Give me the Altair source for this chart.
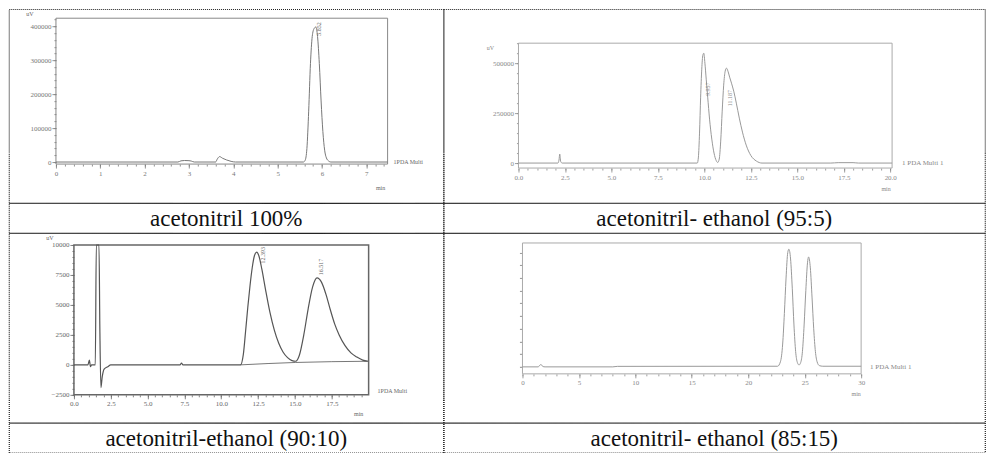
import altair as alt
import pandas as pd

FONT = "Liberation Serif, Times New Roman, serif"

# ---------------- captions ----------------
captions_top = ["acetonitril 100%", "acetonitril- ethanol (95:5)"]
captions_bottom = ["acetonitril-ethanol (90:10)", "acetonitril- ethanol (85:15)"]

# ---------------- panel A: acetonitril 100% (uV vs min) ----------------
a_time = [0.0, 2.75, 2.82, 2.9, 3.0, 3.05, 3.12, 3.6, 3.64, 3.69, 3.76, 3.85, 3.95, 4.05,
          5.58, 5.62, 5.66, 5.70, 5.74, 5.78, 5.82, 5.86, 5.90, 5.94, 5.98, 6.02, 6.06,
          6.10, 6.15, 6.20, 7.48]
a_signal = [0, 0, 3500, 4500, 4000, 3000, 0, 0, 9000, 16000, 11000, 6000, 2000, 0,
            0, 5000, 40000, 150000, 290000, 370000, 393000, 398000, 370000, 290000, 180000,
            90000, 35000, 12000, 3000, 0, 0]
a_range = [0.0, 7.48, -6000, 424000]
a_peak_time = [5.852]
a_peak_height = [398000]
a_peak_label = ["5.852"]

# ---------------- panel B: acetonitril-ethanol 95:5 ----------------
b_time = [0.0, 2.12, 2.18, 2.22, 2.27, 2.35, 9.62, 9.68, 9.74, 9.80, 9.86, 9.92, 9.97,
          10.03, 10.10, 10.18, 10.28, 10.40, 10.52, 10.64, 10.72, 10.80, 10.88, 10.96,
          11.04, 11.12, 11.19, 11.27, 11.36, 11.46, 11.58, 11.72, 11.88, 12.05, 12.25,
          12.50, 12.80, 13.10, 16.8, 17.2, 18.0, 18.3, 20.1]
b_signal = [0, 0, 15000, 45000, 8000, 0, 0, 30000, 150000, 330000, 470000, 540000, 550000,
            500000, 420000, 330000, 220000, 120000, 50000, 12000, 3000, 20000, 110000,
            260000, 390000, 460000, 475000, 460000, 430000, 400000, 360000, 300000,
            225000, 155000, 90000, 38000, 10000, 0, 0, 2000, 2000, 0, 0]
b_range = [0.0, 20.1, -25000, 600000]
b_peak_time = [9.957, 11.187]
b_peak_height = [550000, 475000]
b_peak_label = ["9.957", "11.187"]

# ---------------- panel C: acetonitril-ethanol 90:10 ----------------
c_time = [0.0, 0.95, 1.05, 1.12, 1.2, 1.45, 1.52, 1.60, 1.70, 1.76, 1.83, 1.92, 2.05,
          2.3, 2.5, 7.2, 7.3, 7.4, 11.3, 11.5, 11.65, 11.8, 11.95, 12.1, 12.25, 12.4,
          12.55, 12.75, 13.0, 13.3, 13.6, 13.9, 14.2, 14.5, 14.8, 15.05, 15.3, 15.6,
          15.9, 16.2, 16.5, 16.8, 17.1, 17.4, 17.7, 18.0, 18.4, 18.8, 19.2, 19.6, 19.95]
c_signal = [0, 0, 400, -150, 0, 0, 10000, 10000, 10000, 3000, -1900, -1000, -350,
            -150, 0, 0, 150, 0, 0, 900, 2800, 4800, 6600, 8100, 9100, 9400,
            9100, 8000, 6300, 4400, 2900, 1800, 1050, 600, 350, 300, 800, 2500,
            4700, 6500, 7250, 6900, 5900, 4600, 3400, 2500, 1600, 1000, 650, 400, 300]
c_base_time = [11.3, 15.05, 19.95]
c_base_signal = [0, 200, 300]
c_range = [0.0, 20.0, -2500, 10000]
c_peak_time = [12.39, 16.5]
c_peak_height = [9400, 7250]
c_peak_label = ["12.393", "16.517"]

# ---------------- panel D: acetonitril-ethanol 85:15 ----------------
d_time = [0.0, 1.4, 1.55, 1.65, 1.8, 2.0, 8.0, 8.4, 22.6, 22.85, 23.05, 23.2, 23.35,
          23.5, 23.6, 23.75, 23.9, 24.05, 24.2, 24.35, 24.5, 24.65, 24.8, 24.95, 25.1,
          25.25, 25.35, 25.5, 25.65, 25.8, 25.95, 26.1, 26.3, 26.6, 30.0]
d_signal = [0, 0, 1500, 1800, 300, 0, 0, 400, 500, 4000, 18000, 42000, 70000,
            90000, 92700, 85000, 62000, 33000, 12000, 3500, 1500, 3500, 12000, 33000,
            60000, 82000, 86600, 78000, 55000, 30000, 12000, 4000, 1000, 500, 500]
d_range = [0.0, 30.0, -5500, 97600]

COL_W = [435, 542]
ROW_H = [194, 190]
CAP_H = 30


def dom(lo, hi, plo, phi, total):
    k = (hi - lo) / (phi - plo)
    return [lo - plo * k, hi + (total - phi) * k]


def ticks(lo, hi, step):
    n = int(round((hi - lo) / step))
    return [round(lo + i * step, 6) for i in range(n + 1)]


def axis(values, fmt, offset, orient, color, labels=True, size=4):
    kw = dict(values=values, orient=orient, offset=offset, domain=False,
              grid=False, title=None, tickColor=color, tickWidth=0.8, tickSize=size,
              labelFont=FONT, labelFontSize=7, labelColor=color, labelPadding=1,
              labelFlush=False, labelOverlap=False, labels=labels)
    if fmt:
        kw["format"] = fmt
    return alt.Axis(**kw)


def chrom(w, h, rng, fpx, series, xt, yt, line_col, frame_col, frame_w, notes):
    """xt / yt: (major tick values, minor tick values, format, label colour, show labels)"""
    x0, x1, y0, y1 = rng
    left, right, top, bottom = fpx
    xs = alt.Scale(domain=dom(x0, x1, left, right, w), nice=False, zero=False)
    ys = alt.Scale(domain=dom(y0, y1, h - bottom, h - top, h), nice=False, zero=False)
    xoff, yoff = bottom - h, -left

    x_major = axis(xt[0], xt[2], xoff, "bottom", xt[3], labels=xt[4], size=4)
    x_minor = axis(xt[1], None, xoff, "bottom", xt[3], labels=False, size=2)
    y_major = axis(yt[0], yt[2], yoff, "left", yt[3], labels=yt[4], size=4 if yt[4] else 3)
    y_minor = axis(yt[1], None, yoff, "left", yt[3], labels=False, size=2 if yt[4] else 3)

    def X(f, ax=None):
        return alt.X(f, type="quantitative", scale=xs, axis=ax)

    def Y(f, ax=None):
        return alt.Y(f, type="quantitative", scale=ys, axis=ax)

    frame_df = pd.DataFrame({"x0": [x0], "x1": [x1], "y0": [y0], "y1": [y1]})
    layers = [
        alt.Chart(frame_df).mark_rect(fillOpacity=0, stroke=frame_col, strokeWidth=frame_w)
        .encode(x=X("x0", x_major), x2=alt.X2("x1"), y=Y("y0", y_major), y2=alt.Y2("y1")),
        alt.Chart(frame_df).mark_rect(opacity=0)
        .encode(x=X("x0", x_minor), x2=alt.X2("x1"), y=Y("y0", y_minor), y2=alt.Y2("y1")),
    ]
    for (t, v, sw) in series:
        df = pd.DataFrame({"t": t, "v": v})
        layers.append(alt.Chart(df).mark_line(interpolate="monotone", color=line_col,
                                              strokeWidth=sw)
                      .encode(x=X("t"), y=Y("v")))
    for nt in notes:
        df = pd.DataFrame({"t": nt["t"], "v": nt["v"], "s": nt["s"]})
        layers.append(alt.Chart(df).mark_text(font=FONT, fontSize=nt.get("size", 7),
                                              color=nt.get("color", "#666"),
                                              align=nt.get("align", "center"),
                                              baseline="middle", angle=nt.get("angle", 0),
                                              dx=nt.get("dx", 0), dy=nt.get("dy", 0))
                      .encode(x=X("t"), y=Y("v"), text="s:N"))
    return alt.layer(*layers).resolve_axis(x="independent", y="independent") \
        .properties(width=w, height=h)


def caption(text, w):
    df = pd.DataFrame({"c": [text]})
    return alt.Chart(df).mark_text(font=FONT, fontSize=23, color="#111", baseline="middle") \
        .encode(text="c:N", x=alt.value(w / 2), y=alt.value(CAP_H / 2 + 1)) \
        .properties(width=w, height=CAP_H)


# rotated retention-time labels (angle 270): dx moves up, dy moves right on screen
# ---- panel A ----
pA = chrom(
    COL_W[0], ROW_H[0], a_range, (47, 379, 9, 155),
    [(a_time, a_signal, 1)],
    (ticks(0, 7, 1), ticks(0, 7.4, 0.2), "d", "#777", True),
    (ticks(0, 400000, 100000), ticks(0, 420000, 20000), "d", "#777", True),
    "#777", "#888", 1,
    [dict(t=[a_range[0]], v=[a_range[3]], s=["uV"], dx=-26, dy=-4, size=6),
     dict(t=[a_range[1]], v=[a_range[2]], s=["min"], dx=-7, dy=24, size=6),
     dict(t=[a_range[1]], v=[0], s=["1PDA Multi"], dx=6, align="left", size=6),
     dict(t=a_peak_time, v=a_peak_height, s=a_peak_label, dx=-2, dy=4, angle=270, size=6)])

# ---- panel B ----
pB = chrom(
    COL_W[1], ROW_H[0], b_range, (75, 449, 34, 159),
    [(b_time, b_signal, 1)],
    (ticks(0, 20, 2.5), ticks(0, 20, 0.5), ".1f", "#888", True),
    (ticks(0, 500000, 250000), ticks(0, 600000, 50000), "d", "#888", True),
    "#999", "#aaa", 1,
    [dict(t=[b_range[0]], v=[b_range[3]], s=["uV"], dx=-28, dy=5, size=6, color="#888"),
     dict(t=[b_range[1]], v=[b_range[2]], s=["min"], dx=-6, dy=21, size=6, color="#888"),
     dict(t=[b_range[1]], v=[0], s=["1 PDA Multi 1"], dx=10, align="left", size=7, color="#888"),
     dict(t=b_peak_time[:1], v=b_peak_height[:1], s=b_peak_label[:1], dx=-36, dy=4,
          angle=270, size=6, color="#888"),
     dict(t=b_peak_time[1:], v=b_peak_height[1:], s=b_peak_label[1:], dx=-30, dy=4,
          angle=270, size=6, color="#888")])

# ---- panel C ----
pC = chrom(
    COL_W[0], ROW_H[1], c_range, (65, 360, 12, 162),
    [(c_time, c_signal, 1.2), (c_base_time, c_base_signal, 0.8)],
    (ticks(0, 17.5, 2.5), ticks(0, 19.5, 0.5), ".1f", "#666", True),
    (ticks(-2500, 10000, 2500), ticks(-2500, 10000, 500), "d", "#666", True),
    "#555", "#666", 1.5,
    [dict(t=[c_range[0]], v=[c_range[3]], s=["uV"], dx=-24, dy=-7, size=6),
     dict(t=[c_range[1]], v=[c_range[2]], s=["min"], dx=-10, dy=19, size=6),
     dict(t=[c_range[1]], v=[0], s=["1PDA Multi"], dx=9, dy=26, align="left", size=6),
     dict(t=c_peak_time[:1], v=c_peak_height[:1], s=c_peak_label[:1], dx=-3, dy=7,
          angle=270, size=6),
     dict(t=c_peak_time[1:], v=c_peak_height[1:], s=c_peak_label[1:], dx=11, dy=4,
          angle=270, size=6)])

# ---- panel D ----
pD = chrom(
    COL_W[1], ROW_H[1], d_range, (79, 418, 10, 141),
    [(d_time, d_signal, 1)],
    (ticks(0, 30, 5), ticks(0, 30, 1), "d", "#888", True),
    (ticks(0, 90000, 10000), ticks(0, 90000, 10000), "d", "#999", False),
    "#999", "#aaa", 1,
    [dict(t=[d_range[1]], v=[d_range[2]], s=["min"], dx=-5, dy=20, size=6, color="#888"),
     dict(t=[d_range[1]], v=[0], s=["1 PDA Multi 1"], dx=9, align="left", size=7,
          color="#888")])

cells = [pA, pB,
         caption(captions_top[0], COL_W[0]), caption(captions_top[1], COL_W[1]),
         pC, pD,
         caption(captions_bottom[0], COL_W[0]), caption(captions_bottom[1], COL_W[1])]

chart = alt.concat(*cells, columns=2, spacing=0, bounds="flush").properties(
    padding={"left": 8, "top": 8, "right": 0, "bottom": 0}
).configure(background="white").configure_view(
    stroke="#222", strokeDash=[1, 1], strokeWidth=1.2
)

chart.save("out.html", embed_options={"renderer": "svg", "actions": False})
